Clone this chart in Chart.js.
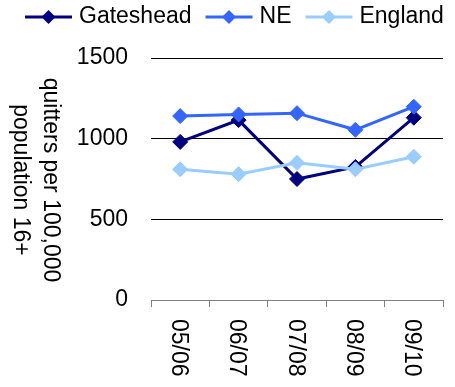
<!DOCTYPE html>
<html>
<head>
<meta charset="utf-8">
<script src="https://cdn.jsdelivr.net/npm/chart.js@4/dist/chart.umd.min.js"></script>
<style>
  html, body { margin: 0; padding: 0; background: #fff; }
  canvas { display: block; }
</style>
</head>
<body>
<canvas id="quitChart" width="455" height="387"></canvas>
<script>
/* ---- data ---- */
const years = ['05/06', '06/07', '07/08', '08/09', '09/10'];
const gateshead = [980, 1115, 750, 825, 1130];
const northEast = [1140, 1150, 1158, 1055, 1198];
const england = [810, 780, 850, 810, 888];
const seriesNames = ['Gateshead', 'NE', 'England'];
const seriesColors = ['#000080', '#3366FF', '#99CCFF'];
const yTitle = ['quitters per 100,000', 'population 16+'];

const FONT_FAMILY = '"Liberation Sans", Arial, sans-serif';
const FONT_SIZE = 23;
const FONT = `${FONT_SIZE}px ${FONT_FAMILY}`;

function diamond(ctx, cx, cy, r) {
  ctx.beginPath();
  ctx.moveTo(cx - r, cy);
  ctx.lineTo(cx, cy - r);
  ctx.lineTo(cx + r, cy);
  ctx.lineTo(cx, cy + r);
  ctx.closePath();
  ctx.fill();
}

// legend, rotated x labels and rotated y title (Chart.js rotates the other way)
const decorations = {
  id: 'decorations',
  afterDraw(chart) {
    const { ctx, scales: { x } } = chart;
    ctx.save();
    ctx.font = FONT;
    ctx.fillStyle = '#000';

    // x labels, reading top to bottom
    ctx.textAlign = 'left';
    ctx.textBaseline = 'middle';
    years.forEach((lbl, i) => {
      ctx.save();
      ctx.translate(x.getPixelForValue(i) - 2, x.top + 19);
      ctx.rotate(Math.PI / 2);
      ctx.fillText(lbl, 0, 0);
      ctx.restore();
    });

    // y axis title, two lines
    ctx.textAlign = 'center';
    [50, 20].forEach((cx, i) => {
      ctx.save();
      ctx.translate(cx, 180);
      ctx.rotate(Math.PI / 2);
      ctx.fillText(yTitle[i], 0, 0);
      ctx.restore();
    });

    // legend
    let lx = 25;
    const ly = 17;
    ctx.textAlign = 'left';
    chart.data.datasets.forEach((ds, i) => {
      ctx.strokeStyle = seriesColors[i];
      ctx.fillStyle = seriesColors[i];
      ctx.lineWidth = 3;
      ctx.beginPath();
      ctx.moveTo(lx, ly);
      ctx.lineTo(lx + 47, ly);
      ctx.stroke();
      diamond(ctx, lx + 23.5, ly, 7);
      ctx.fillStyle = '#000';
      ctx.fillText(ds.label, lx + 54, ly);
      lx += 54 + ctx.measureText(ds.label).width + 14;
    });
    ctx.restore();
  }
};

function makeSeries(label, data, color, order) {
  return {
    label,
    data,
    order,
    borderColor: color,
    backgroundColor: color,
    borderWidth: 3,
    tension: 0,
    pointStyle: 'rectRot',
    pointRadius: 7.5,
    pointBorderWidth: 1,
    pointBackgroundColor: color,
    pointBorderColor: color,
  };
}

new Chart(document.getElementById('quitChart'), {
  type: 'line',
  data: {
    labels: years,
    datasets: [
      makeSeries(seriesNames[0], gateshead, seriesColors[0], 3),
      makeSeries(seriesNames[1], northEast, seriesColors[1], 2),
      makeSeries(seriesNames[2], england, seriesColors[2], 1),
    ]
  },
  options: {
    responsive: false,
    animation: false,
    layout: { padding: { top: 58, right: 12, left: 0, bottom: 0 } },
    plugins: {
      legend: { display: false },
      tooltip: { enabled: false },
    },
    scales: {
      x: {
        offset: true,
        grid: {
          offset: true,
          drawOnChartArea: false,
          drawTicks: true,
          tickLength: 7,
          color: '#808080',
        },
        border: { display: true, color: '#808080', width: 1 },
        ticks: { display: false },
        afterFit(scale) { scale.height = 87; },
      },
      y: {
        min: 0,
        max: 1500,
        grid: {
          drawTicks: false,
          color: (c) => (c.tick && c.tick.value === 0) ? 'rgba(0,0,0,0)' : '#000',
        },
        border: { display: false },
        ticks: {
          stepSize: 500,
          padding: 23,
          color: '#000',
          font: { family: FONT_FAMILY, size: FONT_SIZE },
          callback: (v) => String(v),
        },
        afterFit(scale) { scale.width = 151; },
      }
    }
  },
  plugins: [decorations]
});
</script>
</body>
</html>
